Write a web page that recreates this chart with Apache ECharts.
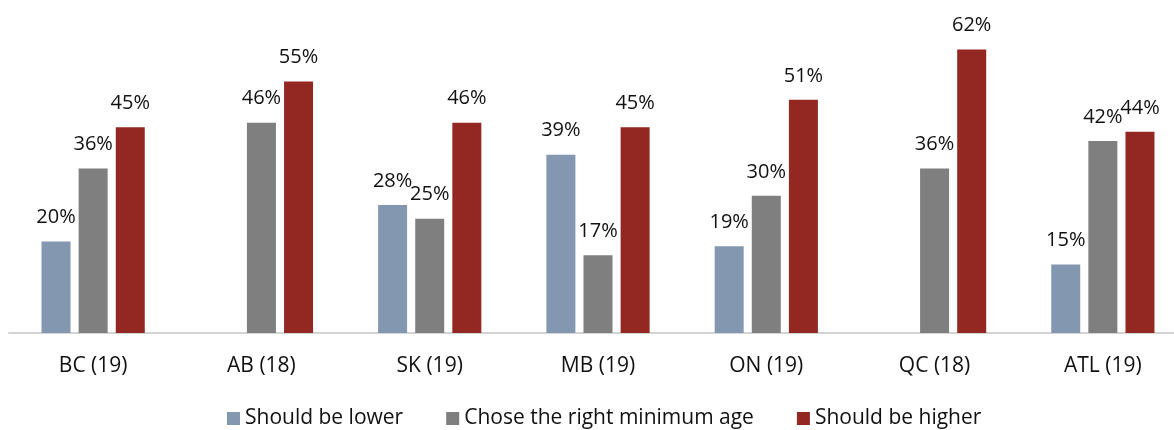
<!DOCTYPE html>
<html>
<head>
<meta charset="utf-8">
<script src="https://cdn.jsdelivr.net/npm/echarts@6/dist/echarts.min.js"></script>
<style>
  html, body { margin: 0; padding: 0; background: #fff; overflow: hidden; }
  #chart { width: 1190px; height: 430px; }
</style>
</head>
<body>
<div id="chart"></div>
<script>
// values (percent)
var regions = ['BC (19)', 'AB (18)', 'SK (19)', 'MB (19)', 'ON (19)', 'QC (18)', 'ATL (19)'];
var shouldBeLower = [20, null, 28, 39, 19, null, 15];
var choseRightAge = [36, 46, 25, 17, 30, 36, 42];
var shouldBeHigher = [45, 55, 46, 45, 51, 62, 44];
var seriesNames = ['Should be lower', 'Chose the right minimum age', 'Should be higher'];
var seriesColors = ['#8497b0', '#7f7f7f', '#932823'];

var fontFamily = '"Open Sans", "Noto Sans", sans-serif';

var chart = echarts.init(document.getElementById('chart'));

function barSeries(name, data, color) {
  return {
    name: name,
    type: 'bar',
    data: data,
    barWidth: 29,
    barGap: '28%',
    itemStyle: { color: color },
    label: {
      show: true,
      position: 'top',
      distance: 14,
      formatter: '{c}%',
      color: '#111',
      fontSize: 20,
      fontFamily: fontFamily
    }
  };
}

chart.setOption({
  animation: false,
  grid: { left: 9, top: 13, width: 1178, height: 320 },
  legend: {
    data: seriesNames,
    left: 227,
    top: 408,
    padding: 0,
    icon: 'rect',
    itemWidth: 13,
    itemHeight: 13,
    itemGap: 43,
    textStyle: { color: '#111', fontSize: 21, fontFamily: fontFamily }
  },
  xAxis: {
    type: 'category',
    data: regions,
    axisLine: { lineStyle: { color: '#d4d4d4', width: 2 } },
    axisTick: { show: false },
    axisLabel: { color: '#111', fontSize: 21, fontFamily: fontFamily, margin: 23 }
  },
  yAxis: {
    type: 'value',
    min: 0,
    max: 70,
    show: false,
    splitLine: { show: false }
  },
  series: [
    barSeries(seriesNames[0], shouldBeLower, seriesColors[0]),
    barSeries(seriesNames[1], choseRightAge, seriesColors[1]),
    barSeries(seriesNames[2], shouldBeHigher, seriesColors[2])
  ]
});
</script>
</body>
</html>
